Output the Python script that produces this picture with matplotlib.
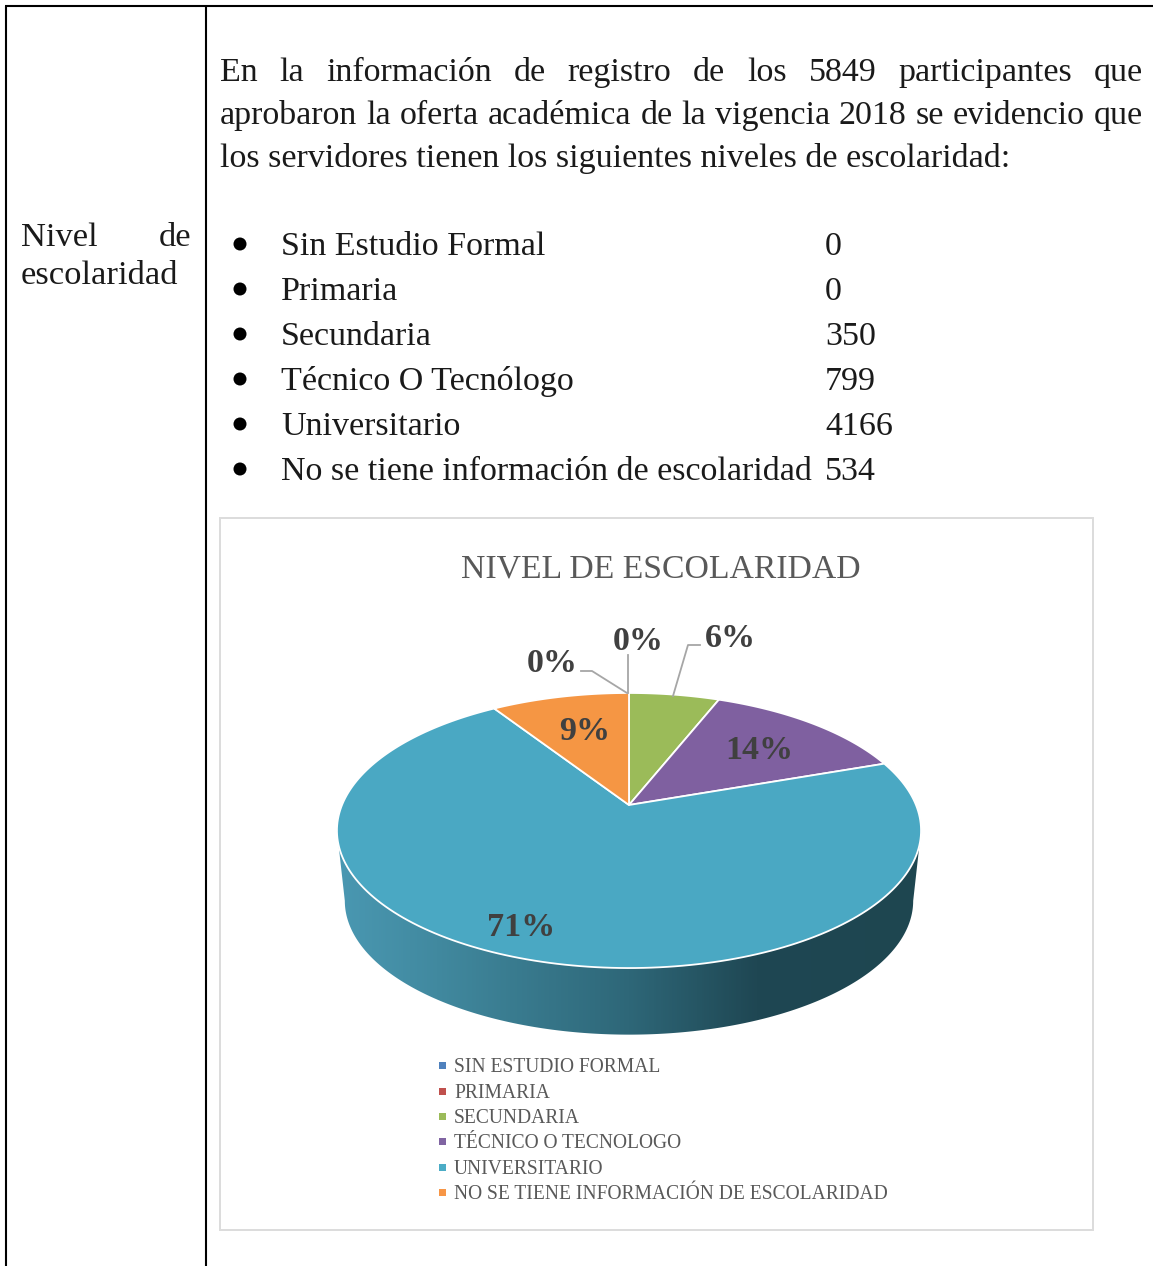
import numpy as np
import matplotlib

matplotlib.use('Agg')
import matplotlib.pyplot as plt
from matplotlib.colors import LinearSegmentedColormap
from matplotlib.patches import Polygon, Rectangle, Circle

categories = ['Sin Estudio Formal', 'Primaria', 'Secundaria', 'Técnico O Tecnólogo',
              'Universitario', 'No se tiene información de escolaridad']
legend_labels = ['SIN ESTUDIO FORMAL', 'PRIMARIA', 'SECUNDARIA', 'TÉCNICO O TECNOLOGO',
                 'UNIVERSITARIO', 'NO SE TIENE INFORMACIÓN DE ESCOLARIDAD']
values = [0, 0, 350, 799, 4166, 534]
colors = ['#4f81bd', '#c0504d', '#9bbb59', '#8064a2', '#4bacc6', '#f79646']
top_colors = ['#4f81bd', '#c0504d', '#9bbb59', '#7f60a0', '#4aa8c3', '#f59644']

FONT = 'Liberation Serif'
TEXT = '#1a1a1a'
GREY = '#595959'
LABEL = '#404040'

# pie geometry, pixels
CX, CY = 629, 805
RX, RY, K = 287, 132.8, 0.1855

fig = plt.figure(figsize=(11.53, 12.66), dpi=100)
ax = fig.add_axes([0, 0, 1, 1])
ax.set_xlim(0, 1153)
ax.set_ylim(1266, 0)
ax.axis('off')
renderer = fig.canvas.get_renderer()


def project(t, r=1.0, scale=1.0, cy=CY):
    # t is clockwise from the top of the pie
    u = r * np.sin(t)
    v = r * np.cos(t)
    s = 1 / (1 + K * v)
    return CX + RX * scale * u * s, cy - RY * scale * v * s


def justify(words, x0, x1, y, size):
    items = [ax.text(x0, y, w, fontsize=size, family=FONT, color=TEXT, va='baseline') for w in words]
    widths = [i.get_window_extent(renderer).width for i in items]
    gap = (x1 - x0 - sum(widths)) / (len(words) - 1)
    x = x0
    for item, w in zip(items, widths):
        item.set_x(x)
        x += w + gap


# table lines
for x in (6, 206):
    ax.plot([x, x], [6, 1266], color='black', lw=1.5, solid_capstyle='butt')
ax.plot([5, 1153], [6, 6], color='black', lw=1.5, solid_capstyle='butt')

# left cell
justify(['Nivel', 'de'], 21, 191, 246, 24.8)
ax.text(21, 284, 'escolaridad', fontsize=24.8, family=FONT, color=TEXT, va='baseline')

# paragraph
SIZE = 24.5
justify('En la información de registro de los 5849 participantes que'.split(), 220, 1143, 81, SIZE)
justify('aprobaron la oferta académica de la vigencia 2018 se evidencio que'.split(), 220, 1143, 124, SIZE)
ax.text(220, 167, 'los servidores tienen los siguientes niveles de escolaridad:',
        fontsize=SIZE, family=FONT, color=TEXT, va='baseline')

# list
list_y = [255, 300, 345, 390, 435, 480]
for name, val, y in zip(categories, values, list_y):
    ax.add_patch(Circle((240, y - 11), 6.5, color='black', lw=0))
    ax.text(281, y, name, fontsize=SIZE, family=FONT, color=TEXT, va='baseline')
    ax.text(825, y, str(val), fontsize=SIZE, family=FONT, color=TEXT, va='baseline')

# chart frame
ax.add_patch(Rectangle((220, 518), 873, 712, facecolor='white', edgecolor='#dcdcdc', lw=1.4))
ax.text(661, 578, 'NIVEL DE ESCOLARIDAD', fontsize=24.3, family=FONT, color=GREY,
        ha='center', va='baseline')

# side of the pie, between the two widest points of the rim
t = np.radians(np.linspace(100.7, 259.3, 300))
x_top, y_top = project(t)
x_low, y_low = project(t[::-1], scale=0.973, cy=876)
side = Polygon(np.r_[np.c_[x_top, y_top], np.c_[x_low, y_low]], closed=True, transform=ax.transData,
               facecolor='none', edgecolor='none')
ax.add_patch(side)
cmap = LinearSegmentedColormap.from_list('side', [(0, '#4a98b2'), (0.17, '#41899f'), (0.5, '#2e6778'),
                                                  (0.72, '#1f4753'), (1, '#1e4650')])
im = ax.imshow(np.linspace(0, 1, 600)[None, :], extent=(337, 921, 1040, 820), cmap=cmap, aspect='auto', zorder=2)
im.set_clip_path(side)
ax.set_xlim(0, 1153)
ax.set_ylim(1266, 0)

# top of the pie
total = sum(values)
start = 0
for val, col in zip(values, top_colors):
    sweep = 2 * np.pi * val / total
    if val > 0:
        a = np.linspace(start, start + sweep, 200)
        x, y = project(a)
        ax.add_patch(Polygon(np.r_[[[CX, CY]], np.c_[x, y]], closed=True, facecolor=col,
                             edgecolor='white', lw=1.3, joinstyle='round', zorder=3))
    start += sweep

# leader lines
leaders = [([581, 592, 627], [671, 671, 693]), ([628, 628], [655, 693]), ([700, 688, 673], [645, 645, 696])]
for lx, ly in leaders:
    ax.plot(lx, ly, color='#a6a6a6', lw=1.3, zorder=4)

# data labels
label_x = [552, 638, 730, 759, 521, 585]
label_y = [672, 650, 647, 759, 936, 740]
for val, x, y in zip(values, label_x, label_y):
    ax.text(x, y, '%d%%' % round(100 * val / total), fontsize=24.5, family=FONT, weight='bold',
            color=LABEL, ha='center', va='baseline', zorder=5)

# legend
legend_y = [1072, 1098, 1123, 1148, 1174, 1199]
for name, col, y in zip(legend_labels, colors, legend_y):
    ax.add_patch(Rectangle((439, y - 10), 6.5, 6.5, color=col, lw=0))
    ax.text(454, y, name, fontsize=14.05, family=FONT, color=GREY, va='baseline')

fig.savefig('out.png', dpi=100)
